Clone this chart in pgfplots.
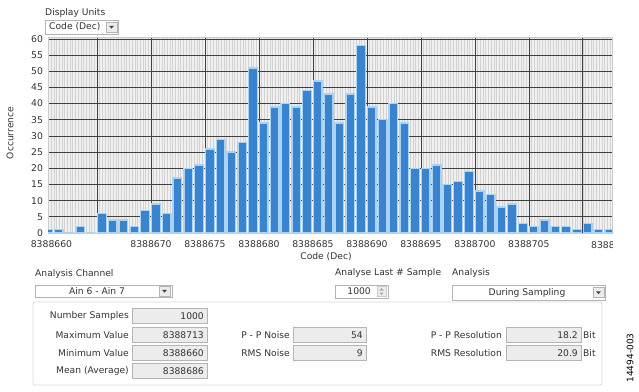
\documentclass[border=0pt]{standalone}
\usepackage{fontspec}
\setmainfont{DejaVu Sans}
\usepackage{pgfplots}
\pgfplotsset{compat=1.18}
\usepackage{pgfplotstable}
\definecolor{barblue}{HTML}{3A83CF}
\definecolor{baredge}{HTML}{A9D3F5}
\definecolor{majgrid}{HTML}{404040}
\definecolor{mingrid}{HTML}{D2D2D2}
\definecolor{plotbg}{HTML}{F0F0F0}
\definecolor{txt}{HTML}{333333}
\definecolor{boxedge}{HTML}{B4B4B4}
\definecolor{fieldbg}{HTML}{ECECEC}
\definecolor{panel}{HTML}{D8D8D8}

% x = code - 8388660, y = occurrence
\pgfplotstableread{
x y
0 1
1 1
2 0
3 2
4 0
5 6
6 4
7 4
8 2
9 7
10 9
11 6
12 17
13 20
14 21
15 26
16 29
17 25
18 28
19 51
20 34
21 39
22 40
23 39
24 44
25 47
26 43
27 34
28 43
29 58
30 39
31 35
32 40
33 34
34 20
35 20
36 21
37 15
38 16
39 19
40 13
41 12
42 8
43 9
44 3
45 2
46 4
47 2
48 2
49 1
50 3
51 1
52 1
}\histdata

\newcommand{\ddbutton}[2]{%
  \filldraw[fill=fieldbg,draw=boxedge,line width=0.5bp] (#1-5.5,#2-5) rectangle (#1+5.5,#2+5);
  \fill[black!75] (#1-2.5,#2+1.2) -- (#1+2.5,#2+1.2) -- (#1,#2-1.6) -- cycle;}
\newcommand{\field}[4]{% x1 x2 ycenter value
  \filldraw[fill=fieldbg,draw=boxedge,line width=0.5bp] (#1,#3-7.5) rectangle (#2,#3+7.5);
  \node[anchor=east,inner sep=0pt] at (#2-3,#3) {#4};}

\begin{document}
\begin{tikzpicture}[x=1bp,y=1bp,font=\fontsize{9.2}{11}\selectfont,text=txt]
\useasboundingbox (0,0) rectangle (639,391);

% Display units
\node[anchor=west,inner sep=0pt] at (45,378) {Display Units};
\filldraw[fill=white,draw=boxedge,line width=0.5bp] (45,357) rectangle (118,371);
\node[anchor=west,inner sep=0pt] at (49,364) {Code (Dec)};
\ddbutton{111.5}{364}

\begin{axis}[
  at={(48bp,158bp)}, anchor=south west,
  scale only axis, width=564bp, height=196bp,
  xmin=0.46, xmax=52.7, ymin=0, ymax=60.6,
  axis background/.style={fill=plotbg},
  axis line style={draw=gray!40},
  xtick={5,10,...,50},
  xticklabels={,8388670,8388675,8388680,8388685,8388690,8388695,8388700,8388705,},
  extra x ticks={0.78},
  extra x tick labels={8388660},
  extra x tick style={grid=none},
  minor xtick={0.5,0.75,...,52.75},
  ytick={0,5,...,60},
  xmajorgrids=true, xminorgrids=true, ymajorgrids=true,
  major grid style={draw=majgrid, line width=0.75bp},
  minor grid style={draw=mingrid, line width=0.5bp},
  tick style={draw=none},
  tick label style={font=\fontsize{9.3}{11}\selectfont, text=txt},
  xticklabel style={yshift=-4bp},
  yticklabel style={xshift=-1.5bp},
  /pgf/number format/assume math mode=true,
]
\addplot[ybar, bar width=0.8, fill=barblue, draw=baredge, line width=1.3bp]
  table[x expr=\thisrow{x}+0.45, y=y] {\histdata};
\end{axis}

\begin{scope}
\clip (560,130) rectangle (612,160);
\node[font=\fontsize{9.3}{11}\selectfont,anchor=west,inner sep=0pt] at (591,146) {8388710};
\end{scope}

\node[rotate=90,inner sep=0pt] at (10,258) {Occurrence};
\node[inner sep=0pt] at (326,134) {Code (Dec)};

% analysis controls
\node[anchor=west,inner sep=0pt] at (35,117) {Analysis Channel};
\filldraw[fill=white,draw=boxedge,line width=0.5bp] (35,94) rectangle (172,106);
\node[inner sep=0pt] at (97,100) {Ain 6 - Ain 7};
\ddbutton{164.5}{100}

\node[anchor=west,inner sep=0pt] at (335,118) {Analyse Last \# Sample};
\node[anchor=west,inner sep=0pt] at (452,118) {Analysis};
\filldraw[fill=white,draw=boxedge,line width=0.5bp] (335,93) rectangle (388,106);
\node[anchor=east,inner sep=0pt] at (371,99.5) {1000};
\filldraw[fill=fieldbg,draw=boxedge!70,line width=0.4bp] (377,94.5) rectangle (386,104.5);
\fill[gray!70] (379.5,100.5) -- (383.5,100.5) -- (381.5,103) -- cycle;
\fill[gray!70] (379.5,98.5) -- (383.5,98.5) -- (381.5,96) -- cycle;

\filldraw[fill=white,draw=boxedge,line width=0.5bp] (452,91) rectangle (605,106);
\node[inner sep=0pt] at (527,98.5) {During Sampling};
\ddbutton{598.5}{98.5}

% panel
\draw[panel,line width=0.8bp,rounded corners=2bp] (33,6) rectangle (602,89);

\node[anchor=east,inner sep=0pt] at (129,75) {Number Samples};
\node[anchor=east,inner sep=0pt] at (129,56) {Maximum Value};
\node[anchor=east,inner sep=0pt] at (129,38) {Minimum Value};
\node[anchor=east,inner sep=0pt] at (129,20) {Mean (Average)};
\field{132}{207}{75}{1000}
\field{132}{207}{56}{8388713}
\field{132}{207}{38}{8388660}
\field{132}{207}{20}{8388686}

\node[anchor=east,inner sep=0pt] at (290,56) {P - P Noise};
\node[anchor=east,inner sep=0pt] at (290,38) {RMS Noise};
\field{293}{366}{56}{54}
\field{293}{366}{38}{9}

\node[anchor=east,inner sep=0pt] at (502,56) {P - P Resolution};
\node[anchor=east,inner sep=0pt] at (502,38) {RMS Resolution};
\field{506}{581}{56}{18.2}
\field{506}{581}{38}{20.9}
\node[anchor=west,inner sep=0pt] at (583,56) {Bit};
\node[anchor=west,inner sep=0pt] at (583,38) {Bit};

\node[rotate=90,inner sep=0pt,text=black,font=\fontsize{9}{10}\selectfont] at (630,33) {14494-003};
\end{tikzpicture}
\end{document}
